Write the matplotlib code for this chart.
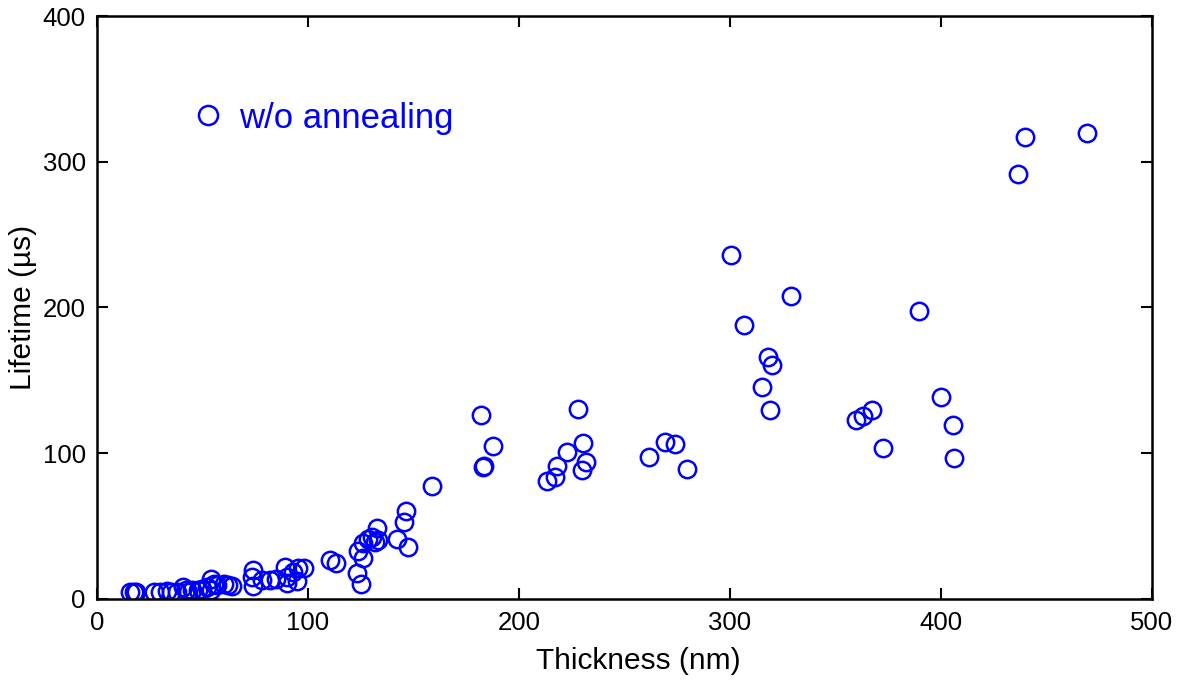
import matplotlib
matplotlib.use("Agg")
import matplotlib.pyplot as plt

plt.rcParams['font.family'] = ['Liberation Sans', 'DejaVu Sans']

thickness = [15.5, 17.5, 18.5, 27, 30, 33, 35, 38, 41, 42, 43, 45, 48, 50, 52, 54, 54, 55.5, 57, 60, 62, 64,
             74, 73.5, 74, 78, 82, 85, 89, 90, 90, 93, 95, 95.5, 98,
             110.4, 113.3, 123.1, 125.0, 123.6, 125.9, 126.2, 128.6, 130.2, 132.6, 133.3, 131.8, 142.0,
             147.5, 146.4, 145.5, 158.8,
             182.0, 187.5, 183.6, 183.1, 228.1, 230.2, 222.9, 217.9, 217.2, 213.1, 231.6, 230.0,
             261.8, 269.2, 274.1, 279.5,
             300.5, 306.6, 329.0, 389.6, 318.0, 319.9, 315.0, 319.0, 359.7, 363.0, 367.3, 372.5,
             400.0, 405.7, 406.2, 436.5, 440.0, 469.2]
lifetime = [5, 5, 4.5, 5, 5, 5.5, 5, 5, 8.5, 6, 5, 6.5, 6, 7, 8.5, 14, 6, 10, 9.5, 10, 9.5, 9,
            20, 15, 9, 13, 13, 14, 22, 15, 11, 18.5, 12, 21, 21,
            26.8, 24.7, 18.0, 10.3, 33.1, 27.9, 38.2, 41.0, 42.7, 48.5, 40.5, 39.3, 41.0,
            35.5, 60.6, 53.0, 77.5,
            126.2, 105.2, 91.3, 90.8, 130.2, 107.3, 101.1, 91.5, 83.5, 81.2, 94.2, 88.5,
            97.6, 107.9, 106.1, 89.2,
            236.0, 188.0, 208.0, 197.6, 166.0, 160.5, 145.5, 129.7, 122.8, 125.6, 129.7, 103.6,
            138.6, 119.4, 96.7, 291.6, 317.0, 319.7]

xticks = [0, 100, 200, 300, 400, 500]
yticks = [0, 100, 200, 300, 400]

fig = plt.figure(figsize=(11.87, 6.84), dpi=100)
ax = fig.add_axes([0.0817, 0.1243, 0.9705 - 0.0817, 0.9766 - 0.1243])

ax.plot(thickness, lifetime, linestyle='none', marker='o', markersize=12.5,
        markerfacecolor='none', markeredgecolor='#0000ff', markeredgewidth=1.8,
        label='w/o annealing')

ax.set_xlim(0, 500)
ax.set_ylim(0, 400)
ax.set_xticks(xticks)
ax.set_yticks(yticks)
ax.tick_params(direction='in', length=8, width=1.5, labelsize=18.5, top=True, right=True,
               labeltop=False, labelright=False)
ax.tick_params(axis='x', pad=9)
ax.tick_params(axis='y', pad=8)
for s in ax.spines.values():
    s.set_linewidth(1.8)

ax.set_xlabel('Thickness (nm)', fontsize=21.5)
ax.xaxis.set_label_coords(0.513, -0.083, transform=ax.transAxes)
ax.xaxis.label.set_va('top')
ax.set_ylabel('Lifetime (µs)', fontsize=21.5, labelpad=4)

leg = ax.legend(loc='center left', bbox_to_anchor=(0.087, 0.825), frameon=False,
                fontsize=25, labelcolor='#0000ff', handletextpad=0.35, handlelength=1.1,
                borderpad=0, borderaxespad=0, markerscale=1.1)

fig.savefig('out.png', dpi=100)
